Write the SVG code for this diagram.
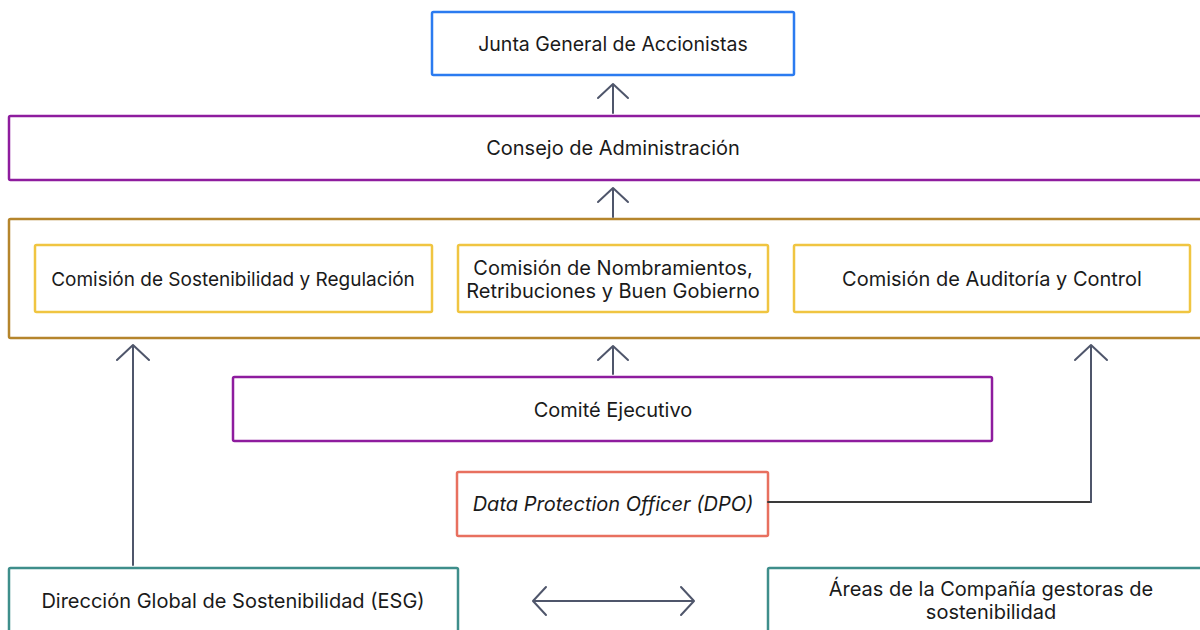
<svg xmlns="http://www.w3.org/2000/svg" width="1200" height="630" viewBox="0 0 1200 630">
<style>
  .box{fill:#fff;stroke-width:2.5}
  .blue{stroke:#2B7BF0}
  .purple{stroke:#8E1C9E}
  .gold{stroke:#B5852C}
  .yellow{stroke:#F0C541}
  .coral{stroke:#E8705F}
  .teal{stroke:#3E8E8B}
  .t{font-family:Inter,"Noto Sans","Liberation Sans",sans-serif;font-size:20px;fill:#1a1a1a;text-anchor:middle;dominant-baseline:central}
  .it{font-style:italic}
  .conn{fill:none;stroke:#4F566B;stroke-width:2;stroke-linecap:round;stroke-linejoin:round}
  .dark{stroke:#3a3a3a}
</style>
<rect width="1200" height="630" fill="#fff"/>

<g id="n-junta"><rect class="box blue" x="432" y="12" width="362" height="63" rx="1.5"/><text class="t" x="613" y="44" style="font-size:19.5px">Junta General de Accionistas</text></g>
<g id="n-consejo"><rect class="box purple" x="9" y="116" width="1200" height="64" rx="1.5"/><text class="t" x="613" y="148">Consejo de Administración</text></g>
<g id="n-comisiones"><rect class="box gold" x="9" y="219" width="1200" height="119" rx="1.5"/></g>
<g id="n-sost"><rect class="box yellow" x="35" y="245" width="397" height="67" rx="1.5"/><text class="t" x="233" y="279" style="font-size:19px">Comisión de Sostenibilidad y Regulación</text></g>
<g id="n-nomb"><rect class="box yellow" x="458" y="245" width="310" height="67" rx="1.5"/><text class="t" x="613" y="268">Comisión de Nombramientos,</text><text class="t" x="613" y="291">Retribuciones y Buen Gobierno</text></g>
<g id="n-audit"><rect class="box yellow" x="794" y="245" width="396" height="67" rx="1.5"/><text class="t" x="992" y="279">Comisión de Auditoría y Control</text></g>
<g id="n-comite"><rect class="box purple" x="233" y="377" width="759" height="64" rx="1.5"/><text class="t" x="613" y="410">Comité Ejecutivo</text></g>
<g id="n-dpo"><rect class="box coral" x="457" y="472" width="311" height="64" rx="1.5"/><text class="t it" x="613" y="504">Data Protection Officer (DPO)</text></g>
<g id="n-esg"><rect class="box teal" x="9" y="568" width="449" height="80" rx="1.5"/><text class="t" x="233" y="601">Dirección Global de Sostenibilidad (ESG)</text></g>
<g id="n-areas"><rect class="box teal" x="768" y="568" width="450" height="80" rx="1.5"/><text class="t" x="991" y="589">Áreas de la Compañía gestoras de</text><text class="t" x="991" y="612">sostenibilidad</text></g>

<g id="connectors">
  <path class="conn" d="M613 113V84M598 98L613 84L628 98"/>
  <path class="conn" d="M613 217V188M598 202L613 188L628 202"/>
  <path class="conn" d="M613 374V346M598 360L613 346L628 360"/>
  <path class="conn" d="M133 565V345M117 360L133 345L149 360"/>
  <path class="conn dark" d="M768 502H1091"/>
  <path class="conn" d="M1091 502V345M1075 360L1091 345L1107 360"/>
  <path class="conn" d="M535 601H692M546 587L533 601L546 615M681 587L694 601L681 615"/>
</g>
</svg>
